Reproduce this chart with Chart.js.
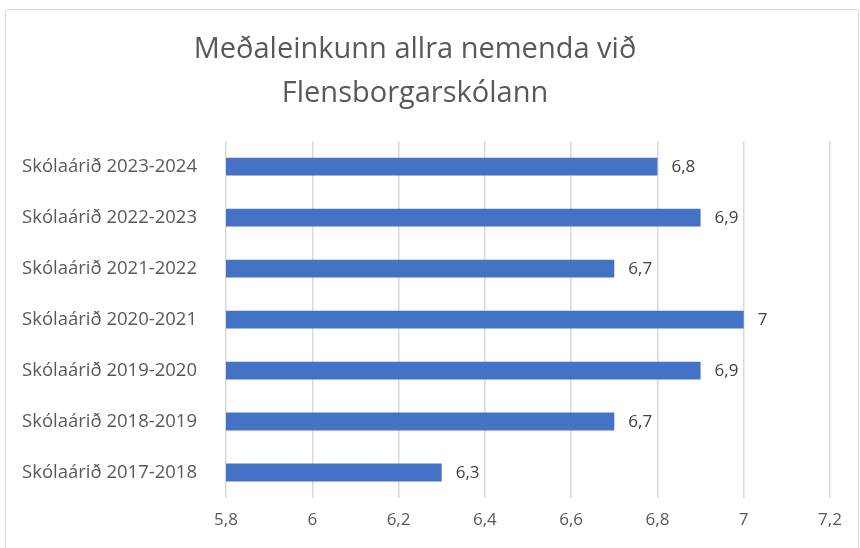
<!DOCTYPE html>
<html lang="is">
  <head>
    <meta charset="UTF-8" />
    <title>Meðaleinkunn</title>
    <style>
      body {
        margin: 0;
        background: #fff;
      }
      .frame {
        position: absolute;
        left: 5px;
        top: 9px;
        width: 852px;
        height: 560px;
        border: 1px solid #d9d9d9;
        border-radius: 3px;
      }
      .wrap {
        position: absolute;
        left: 0;
        top: 0;
        width: 860px;
        height: 548px;
      }
    </style>
  </head>
  <body>
    <div class="frame"></div>
    <div class="wrap"><canvas id="chart"></canvas></div>

    <script src="https://cdn.jsdelivr.net/npm/chart.js"></script>
    <script>
      const years = [
        "Skólaárið 2023-2024",
        "Skólaárið 2022-2023",
        "Skólaárið 2021-2022",
        "Skólaárið 2020-2021",
        "Skólaárið 2019-2020",
        "Skólaárið 2018-2019",
        "Skólaárið 2017-2018",
      ];
      const grades = [6.8, 6.9, 6.7, 7.0, 6.9, 6.7, 6.3];

      const fmt = (v) => {
        let s = (Math.round(v * 10) / 10).toString();
        return s.replace(".", ",");
      };

      // labels to the right of each bar
      const barLabels = {
        id: "barLabels",
        afterDatasetsDraw(chart) {
          const ctx = chart.ctx;
          ctx.save();
          ctx.font = "17px 'Open Sans'";
          ctx.fillStyle = "#404040";
          ctx.textBaseline = "middle";
          chart.getDatasetMeta(0).data.forEach((bar, i) => {
            ctx.fillText(fmt(grades[i]), bar.x + 14, bar.y + 1);
          });
          ctx.restore();
        },
      };

      new Chart(document.getElementById("chart"), {
        type: "bar",
        data: {
          labels: years,
          datasets: [
            {
              data: grades,
              backgroundColor: "#4472c4",
              barPercentage: 1,
              categoryPercentage: 0.35,
            },
          ],
        },
        options: {
          indexAxis: "y",
          responsive: true,
          maintainAspectRatio: false,
          animation: false,
          layout: { padding: { left: 0, right: 30, top: 0, bottom: 0 } },
          plugins: {
            legend: { display: false },
            tooltip: { enabled: false },
            title: {
              display: true,
              text: ["Meðaleinkunn allra nemenda við", "Flensborgarskólann"],
              color: "#595959",
              font: { family: "Open Sans", size: 29, weight: "normal", lineHeight: 1.52 },
              padding: { top: 28, bottom: 25 },
            },
          },
          scales: {
            x: {
              min: 5.8,
              max: 7.2,
              ticks: {
                stepSize: 0.2,
                color: "#595959",
                font: { family: "Open Sans", size: 17 },
                padding: 12,
                callback: (v) => fmt(v),
              },
              grid: { color: "#d9d9d9", lineWidth: 1.5, drawTicks: false },
              border: { display: false },
              afterFit: (s) => {
                s.height = 50;
              },
            },
            y: {
              ticks: {
                color: "#595959",
                font: { family: "Open Sans", size: 18.5 },
                padding: 21,
              },
              grid: { display: false },
              border: { display: false },
              afterFit: (s) => {
                s.width = 226;
              },
            },
          },
        },
        plugins: [barLabels],
      });
    </script>
  </body>
</html>
